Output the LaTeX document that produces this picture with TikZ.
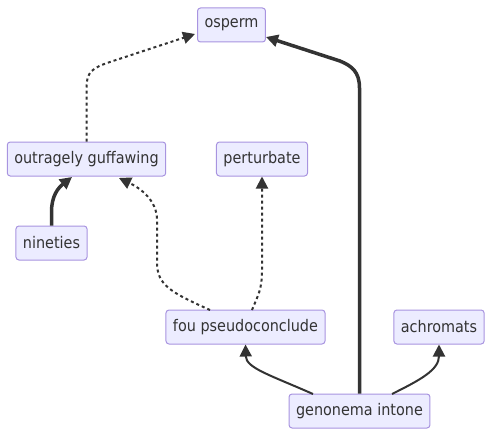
\documentclass[tikz,border=0pt]{standalone}
\usepackage{fontspec}
\setmainfont{DejaVu Sans Condensed}
\usetikzlibrary{arrows.meta}
\definecolor{nodefill}{HTML}{ECECFF}
\definecolor{nodeline}{HTML}{A894E0}
\definecolor{ink}{HTML}{333333}
\tikzset{
  box/.style={draw=nodeline, fill=nodefill, line width=1pt, rounded corners=3pt,
    minimum height=34pt, inner xsep=7pt, inner ysep=0pt, text=ink,
    font=\fontsize{16}{19}\selectfont},
  link/.style={draw=ink, line width=2pt, -{Triangle[length=12pt,width=12pt]}},
  thicklink/.style={link, line width=3.5pt},
  dotlink/.style={link, dash pattern=on 3pt off 3pt},
}
\begin{document}
\begin{tikzpicture}[x=1pt,y=-1pt]
\useasboundingbox (0,0) rectangle (492,436);
\node[box] (os) at (231.5,25) {osperm};
\node[box] (og) at (86.5,159) {outragely guffawing};
\node[box] (pt) at (262,159) {perturbate};
\node[box] (ni) at (51.5,243) {nineties};
\node[box] (fo) at (245.5,327) {fou pseudoconclude};
\node[box] (ac) at (439,327) {achromats};
\node[box] (gi) at (359.5,411) {genonema intone};
\coordinate (osL) at (195,34);
\coordinate (osR) at (266,37);
\coordinate (ogL) at (72,177);
\coordinate (ogR) at (119,178);
\draw[dotlink] (og.north) -- (86.5,88) .. controls (86.5,72) and (92,68) .. (110,62) -- (osL);
\draw[thicklink] (gi.north) -- (359.5,88) .. controls (359.5,72) and (352,66) .. (340,61) -- (osR);
\draw[thicklink] (ni.north) -- (51.5,212) .. controls (51.5,196) and (58,188) .. (ogL);
\draw[dotlink] (210,310) .. controls (170,292) and (157,285) .. (157,262) -- (157,220) .. controls (157,200) and (140,188) .. (ogR);
\draw[dotlink] (252,310) .. controls (258,295) and (262,290) .. (262,270) -- (pt.south);
\draw[link] (313,394) .. controls (270,375) and (246,368) .. (fo.south);
\draw[link] (392,394) .. controls (420,380) and (439,370) .. (ac.south);
\end{tikzpicture}
\end{document}
